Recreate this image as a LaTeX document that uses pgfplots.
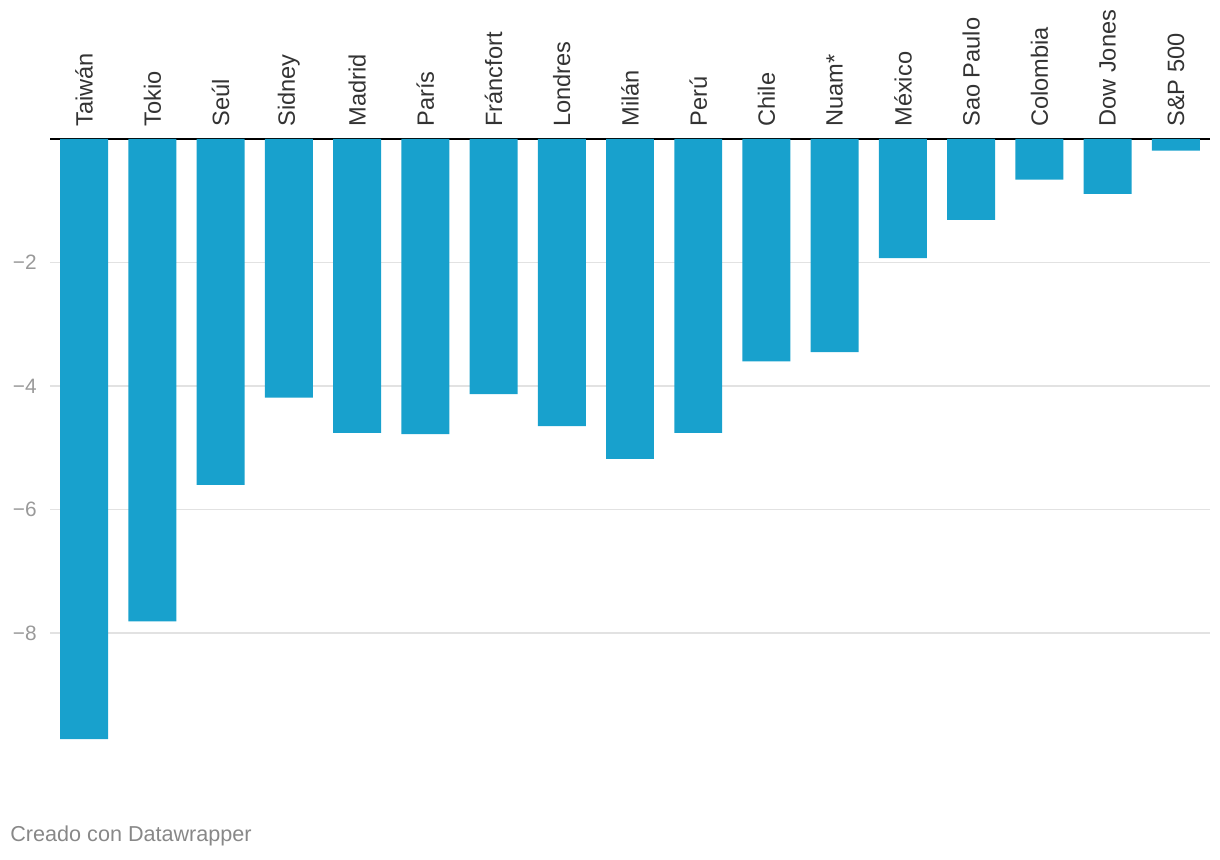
\documentclass[border=0pt]{standalone}
\usepackage{pgfplots}
\pgfplotsset{compat=1.18}
\usepackage{fontspec}
\setmainfont{Liberation Sans}
\definecolor{barblue}{HTML}{18A1CD}
\definecolor{labelgray}{HTML}{333333}
\definecolor{tickgray}{HTML}{999999}
\definecolor{footgray}{HTML}{888888}
\definecolor{gridgray}{HTML}{E2E2E2}
\begin{document}
\begin{tikzpicture}
\useasboundingbox (0,0) rectangle (610pt,430pt);
\begin{axis}[
    at={(25pt,51.75pt)}, anchor=south west,
    scale only axis,
    width=580pt, height=308.75pt,
    xmin=-0.5, xmax=16.5,
    ymin=-10, ymax=0,
    axis line style={draw=none},
    major tick length=0pt,
    xtick={0,...,16},
    xticklabels={Taiwán, Tokio, Seúl, Sidney, Madrid, París, Fráncfort, Londres, Milán, Perú, Chile, Nuam*, México, Sao Paulo, Colombia, Dow Jones, S\&P 500},
    xticklabel pos=upper,
    xticklabel style={rotate=90, anchor=west, inner xsep=6pt, inner ysep=0pt,
        text=labelgray, font=\fontsize{11.8}{14}\selectfont},
    ytick={-8,-6,-4,-2},
    yticklabels={−8,−6,−4,−2},
    yticklabel style={anchor=east, inner sep=0pt, xshift=-6.5pt,
        text=tickgray, font=\fontsize{10.4}{12}\selectfont},
    ymajorgrids=true,
    major grid style={gridgray, line width=0.9pt},
    extra y ticks={0},
    extra y tick labels={},
    extra y tick style={grid=major, major grid style={black, line width=1.1pt}},
    ybar, bar width=0.703,
]
\addplot[fill=barblue, draw=none] coordinates {
    (0,-9.72) (1,-7.81) (2,-5.60) (3,-4.19) (4,-4.76) (5,-4.78)
    (6,-4.13) (7,-4.65) (8,-5.18) (9,-4.76) (10,-3.60) (11,-3.45)
    (12,-1.93) (13,-1.31) (14,-0.66) (15,-0.89) (16,-0.19)
};
\end{axis}
\node[anchor=base west, inner sep=0pt, text=footgray, font=\fontsize{10.8}{13}\selectfont]
    at (5pt,9pt) {Creado con Datawrapper};
\end{tikzpicture}
\end{document}
